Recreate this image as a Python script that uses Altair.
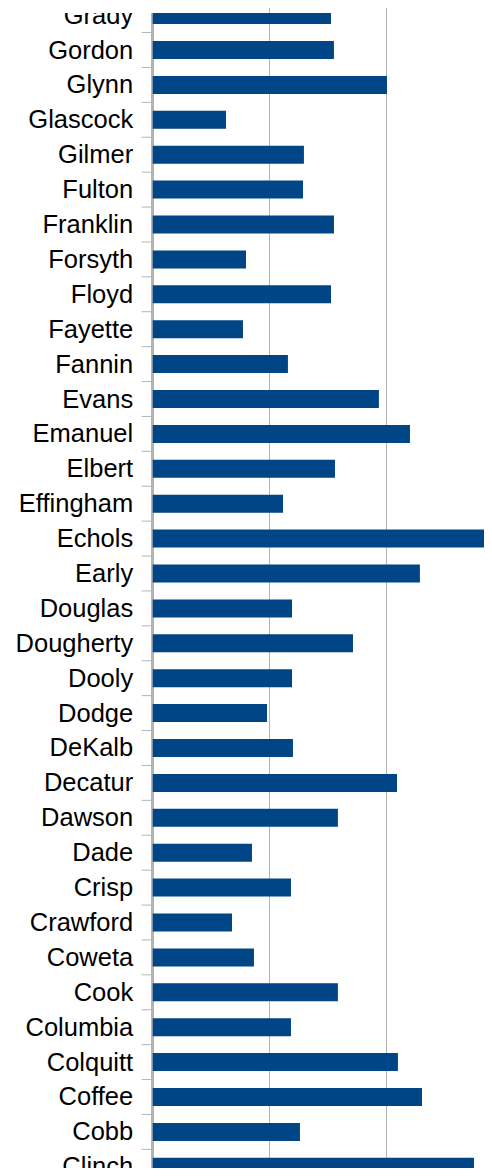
import altair as alt
import pandas as pd

counties = ["Grady", "Gordon", "Glynn", "Glascock", "Gilmer", "Fulton", "Franklin",
            "Forsyth", "Floyd", "Fayette", "Fannin", "Evans", "Emanuel", "Elbert",
            "Effingham", "Echols", "Early", "Douglas", "Dougherty", "Dooly", "Dodge",
            "DeKalb", "Decatur", "Dawson", "Dade", "Crisp", "Crawford", "Coweta",
            "Cook", "Columbia", "Colquitt", "Coffee", "Cobb", "Clinch"]
values = [15.27, 15.52, 20.06, 6.28, 12.95, 12.87, 15.52, 7.99, 15.27, 7.73,
          11.58, 19.37, 22.03, 15.61, 11.16, 31.0, 22.88, 11.93, 17.15, 11.93,
          9.79, 12.01, 20.92, 15.86, 8.50, 11.84, 6.79, 8.67, 15.86, 11.84,
          21.0, 23.06, 12.61, 27.51]
grid_values = [10, 20]

df = pd.DataFrame({"county": counties, "value": values})

BAR = "#004586"
GRID = "#b3b3b3"

yscale = alt.Scale(domain=counties, range=[-6.9, 1162.8], paddingInner=0.4842, paddingOuter=0)
xscale = alt.Scale(domain=[0, 28.37], range=[144.7, 476], nice=False, zero=False)

yenc = alt.Y("county:N", sort=counties, scale=yscale, axis=None)

base = alt.Chart(df)

axis_line = base.mark_rule(color=GRID, strokeWidth=2).encode(
    x=alt.datum(0, scale=xscale)
)

bars = base.mark_bar(color=BAR, clip=True).encode(
    x=alt.X("value:Q", scale=xscale,
            axis=alt.Axis(values=grid_values, grid=True, gridColor=GRID, gridWidth=1,
                          labels=False, ticks=False, domain=False, title=None)),
    y=yenc,
)

ticks = base.mark_rule(color=GRID, strokeWidth=1, clip=True).encode(
    y=yenc,
    yOffset=alt.value(26.45),
    x=alt.value(133.7),
    x2=alt.value(144.7),
)

labels = base.mark_text(align="right", baseline="alphabetic", dy=8.5, fontSize=25.5,
                        font="Liberation Sans", color="black", clip=True).encode(
    y=yenc,
    x=alt.value(125.2),
    text="county:N",
)

chart = alt.layer(axis_line, bars, ticks, labels).properties(
    width=476,
    height=1155,
    autosize=alt.AutoSizeParams(type="none"),
    padding={"top": 5, "left": 0, "right": 0, "bottom": 0},
    background="white",
).configure_view(stroke=None)

chart.save("out.html", embed_options={"renderer": "svg", "actions": False})
